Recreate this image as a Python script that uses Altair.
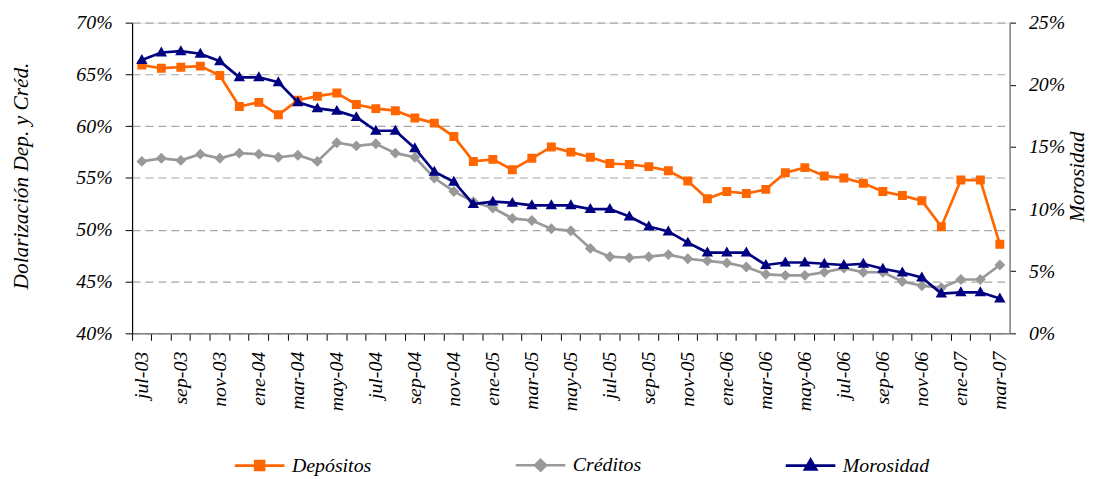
import altair as alt
import pandas as pd

meses = ["jul-03", "ago-03", "sep-03", "oct-03", "nov-03", "dic-03",
         "ene-04", "feb-04", "mar-04", "abr-04", "may-04", "jun-04",
         "jul-04", "ago-04", "sep-04", "oct-04", "nov-04", "dic-04",
         "ene-05", "feb-05", "mar-05", "abr-05", "may-05", "jun-05",
         "jul-05", "ago-05", "sep-05", "oct-05", "nov-05", "dic-05",
         "ene-06", "feb-06", "mar-06", "abr-06", "may-06", "jun-06",
         "jul-06", "ago-06", "sep-06", "oct-06", "nov-06", "dic-06",
         "ene-07", "feb-07", "mar-07"]

depositos = [65.9, 65.6, 65.7, 65.8, 64.9, 61.9, 62.3, 61.1, 62.5, 62.9, 63.2, 62.1,
             61.7, 61.5, 60.8, 60.3, 59.0, 56.6, 56.8, 55.8, 56.9, 58.0, 57.5, 57.0,
             56.4, 56.3, 56.1, 55.7, 54.7, 53.0, 53.7, 53.5, 53.9, 55.5, 56.0, 55.2,
             55.0, 54.5, 53.7, 53.3, 52.8, 50.3, 54.8, 54.8, 48.6]

creditos = [56.6, 56.9, 56.7, 57.3, 56.9, 57.4, 57.3, 57.0, 57.2, 56.6, 58.4, 58.1,
            58.3, 57.4, 57.0, 55.0, 53.7, 52.7, 52.1, 51.1, 50.9, 50.1, 49.9, 48.2,
            47.4, 47.3, 47.4, 47.6, 47.2, 47.0, 46.8, 46.4, 45.7, 45.6, 45.6, 45.9,
            46.3, 45.9, 45.9, 45.0, 44.6, 44.4, 45.2, 45.2, 46.6]

morosidad = [22.0, 22.6, 22.7, 22.5, 21.9, 20.6, 20.6, 20.2, 18.6, 18.1, 17.9, 17.4,
             16.3, 16.3, 14.9, 13.0, 12.2, 10.4, 10.6, 10.5, 10.3, 10.3, 10.3, 10.0,
             10.0, 9.4, 8.6, 8.2, 7.3, 6.5, 6.5, 6.5, 5.5, 5.7, 5.7, 5.6,
             5.5, 5.6, 5.2, 4.9, 4.5, 3.2, 3.3, 3.3, 2.8]

series = ["Depósitos", "Créditos", "Morosidad"]
colores = ["#FF6600", "#999999", "#000080"]
# marker paths: a short horizontal line (only visible when stroked, i.e. in the legend)
# plus the filled marker itself
formas = [
    "M-1,0H1M-0.18,-0.18H0.18V0.18H-0.18Z",
    "M-1,0H1M-0.22,0L0,-0.22L0.22,0L0,0.22Z",
    "M-1,0H1M-0.23,0.16L0,-0.24L0.23,0.16Z",
]
left_ticks = [0.40, 0.45, 0.50, 0.55, 0.60, 0.65, 0.70]
right_ticks = [0.0, 0.05, 0.10, 0.15, 0.20, 0.25]

rows = []
for name, vals in zip(series, [depositos, creditos, morosidad]):
    for i, (m, v) in enumerate(zip(meses, vals)):
        rows.append({"mes": m, "idx": i, "serie": name, "valor": v / 100.0})
df = pd.DataFrame(rows)

FONT = "Liberation Serif"
W, H = 884, 313
SYM = 2500

legend = alt.Legend(
    orient="none", legendX=102, legendY=419, direction="horizontal", title=None,
    symbolSize=SYM, symbolStrokeWidth=2.6, symbolOpacity=1,
    labelFont=FONT, labelFontSize=20,
    labelFontStyle="italic", labelColor="black", labelOffset=6, columnPadding=140,
    gridAlign="each", padding=0,
)

col_scale = alt.Scale(domain=series, range=colores)
fill = alt.Fill("serie:N", scale=col_scale, legend=legend)
stroke = alt.Stroke("serie:N", scale=col_scale, legend=legend)
shape = alt.Shape("serie:N", scale=alt.Scale(domain=series, range=formas), legend=legend)

x = alt.X(
    "mes:N", sort=meses, title=None,
    scale=alt.Scale(type="band", paddingInner=0, paddingOuter=0),
    axis=alt.Axis(
        bandPosition=0, labelOffset=0, labelAngle=270, labelAlign="right",
        labelBaseline="middle", labelPadding=11, labelOverlap=False,
        labelExpr="test(/^(jul|sep|nov|ene|mar|may)/, datum.value) ? datum.value : ''",
        labelFont=FONT, labelFontSize=20, labelFontStyle="italic", labelColor="black",
        tickColor="black", tickSize=7, domainColor="#808080", domainWidth=1.5, grid=False,
    ),
)

y_left = alt.Y(
    "valor:Q", scale=alt.Scale(domain=[0.40, 0.70], nice=False, zero=False),
    axis=alt.Axis(
        values=left_ticks, format=".0%", orient="left",
        title="Dolarización Dep. y Créd.", titleFont=FONT, titleFontSize=21.5,
        titleFontStyle="italic", titleFontWeight="normal", titleColor="black",
        titleAngle=270, titleBaseline="alphabetic", titleAlign="center",
        titleX=-105, titleY=154,
        labelFont=FONT, labelFontSize=20, labelFontStyle="italic", labelColor="black",
        labelPadding=13, tickColor="black", tickSize=7, domainColor="black", domainWidth=1.2,
        grid=True, gridDash=[8, 5], gridColor="#A6A6A6", gridWidth=1.2,
    ),
)

y_right = alt.Y(
    "valor:Q", scale=alt.Scale(domain=[0.0, 0.25], nice=False),
    axis=alt.Axis(
        values=right_ticks, format=".0%", orient="right",
        title="Morosidad", titleFont=FONT, titleFontSize=21,
        titleFontStyle="italic", titleFontWeight="normal", titleColor="black",
        titleAngle=270, titleBaseline="alphabetic", titleAlign="center",
        titleX=74, titleY=155,
        labelFont=FONT, labelFontSize=20, labelFontStyle="italic", labelColor="black",
        labelPadding=13, tickColor="black", tickSize=6, domainColor="#808080", domainWidth=1.5,
        grid=False,
    ),
)

base = alt.Chart(df)

left_data = base.transform_filter(
    alt.FieldOneOfPredicate(field="serie", oneOf=series[:2])
)
right_data = base.transform_filter(
    alt.FieldEqualPredicate(field="serie", equal=series[2])
)

left = alt.layer(
    left_data.mark_line(strokeWidth=2.7).encode(x=x, y=y_left, stroke=stroke, order="idx:Q"),
    left_data.mark_point(filled=True, opacity=1, size=SYM, strokeWidth=0).encode(
        x=x, y=y_left, fill=fill, stroke=stroke, shape=shape),
)

right = alt.layer(
    right_data.mark_line(strokeWidth=2.7).encode(x=x, y=y_right, stroke=stroke, order="idx:Q"),
    right_data.mark_point(filled=True, opacity=1, size=SYM, strokeWidth=0).encode(
        x=x, y=y_right, fill=fill, stroke=stroke, shape=shape),
)

chart = alt.layer(left, right).resolve_scale(y="independent").properties(
    width=W, height=H,
    autosize=alt.AutoSizeParams(type="none"),
    padding={"left": 125, "top": 13, "right": 81, "bottom": 145},
).configure_view(stroke=None).configure(background="white")

chart.save("out.html", embed_options={"renderer": "svg", "actions": False})
